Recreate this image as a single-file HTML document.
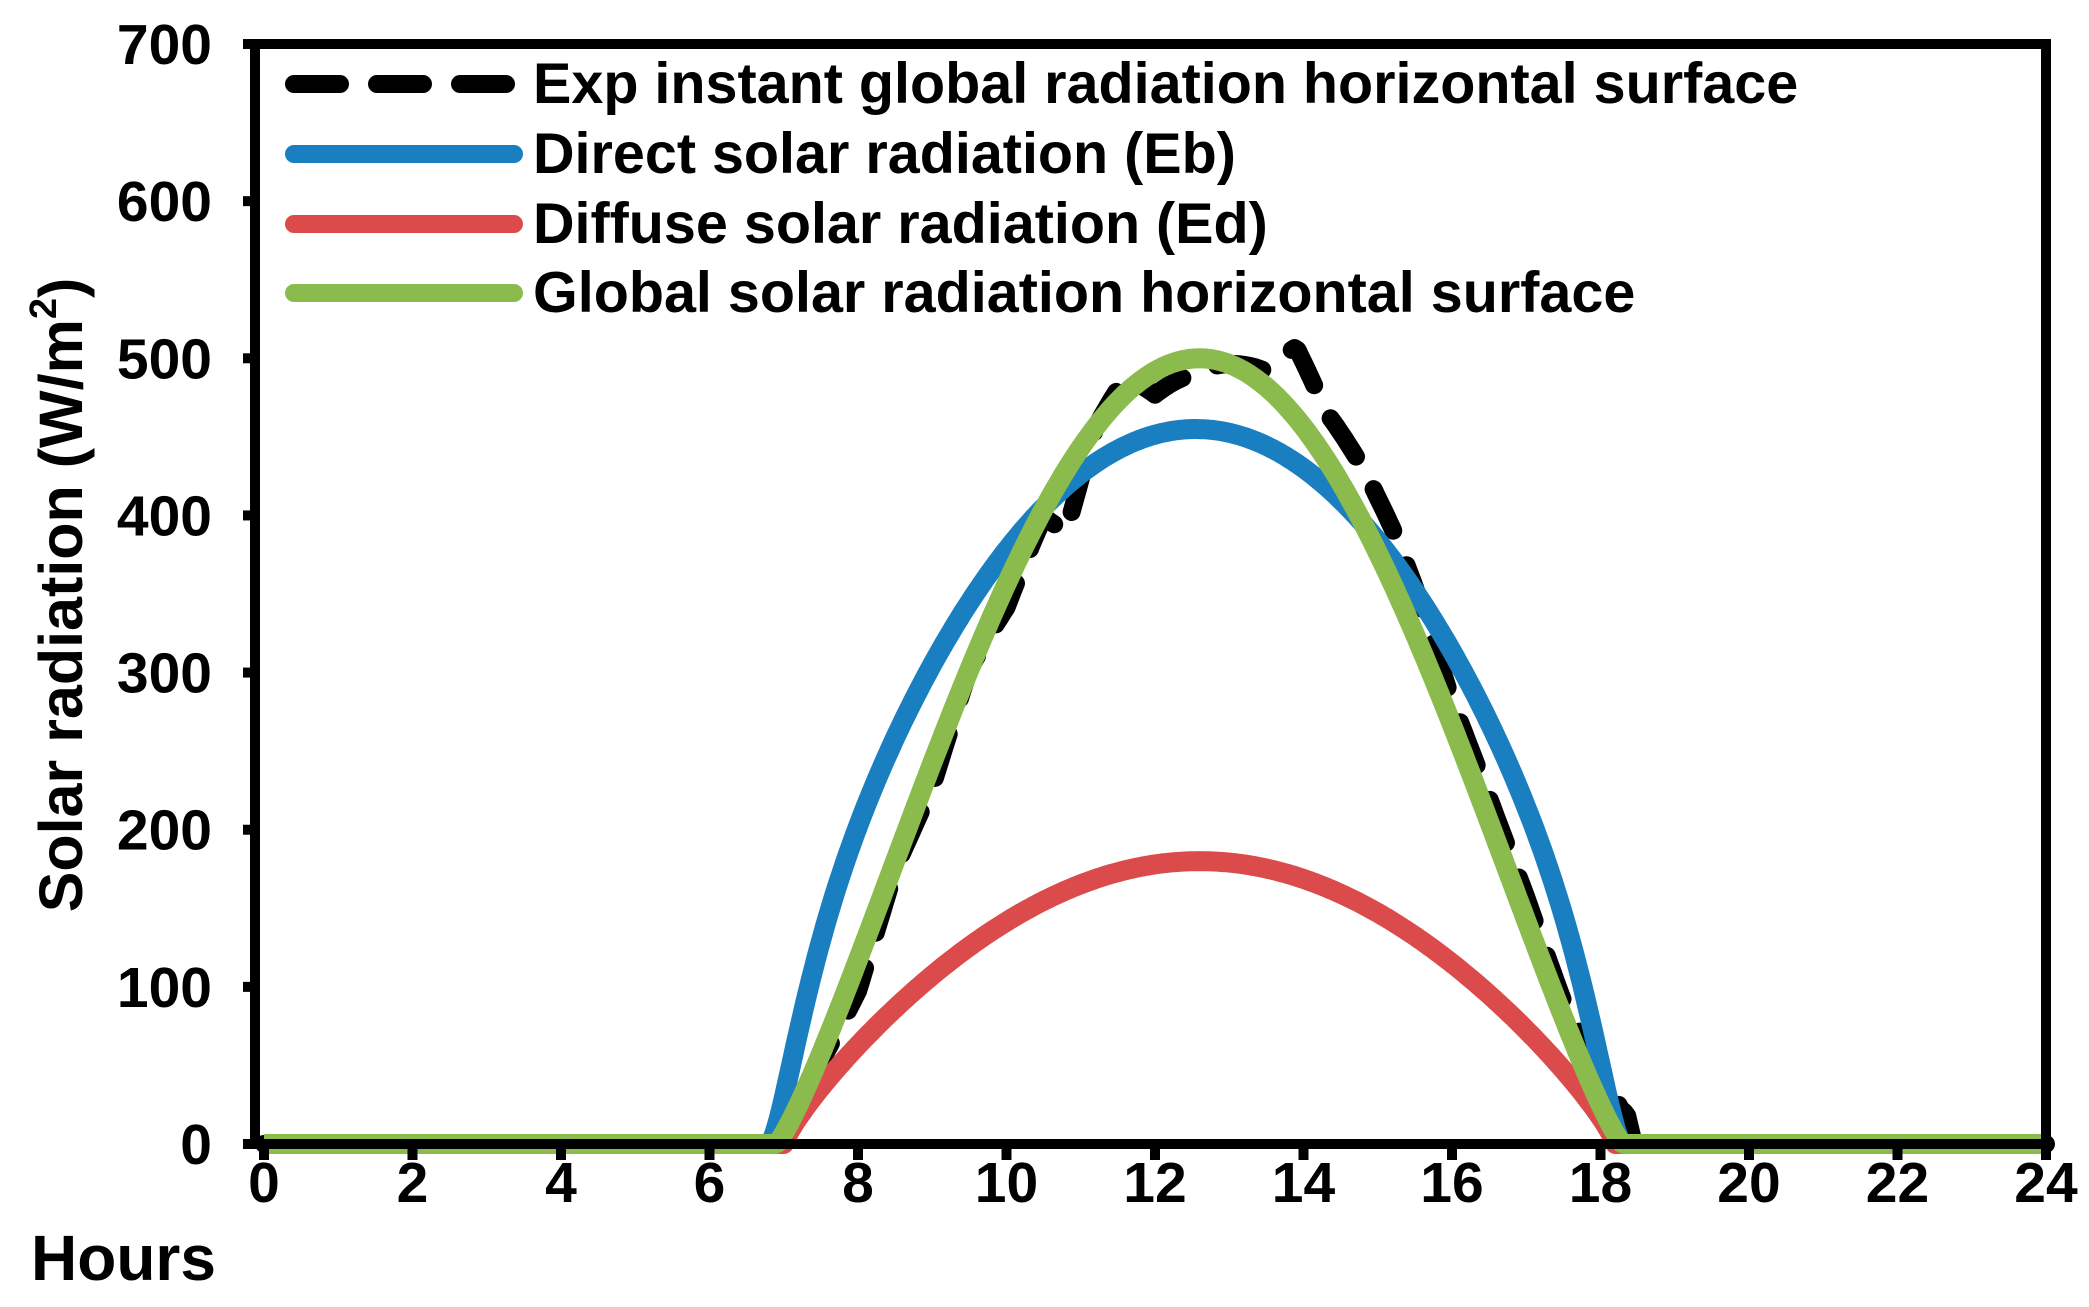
<!DOCTYPE html>
<html><head><meta charset="utf-8"><style>
html,body{margin:0;padding:0;background:#fff}
svg text{font-family:"Liberation Sans",Arial,sans-serif;font-weight:bold;fill:#000}
</style></head><body>
<svg id="s" width="2089" height="1302" viewBox="0 0 2089 1302" xmlns="http://www.w3.org/2000/svg">
<g id="plot"></g>
<rect x="255" y="44" width="1791" height="1100" fill="none" stroke="#000" stroke-width="10"/>
<g id="ticks" stroke="#000" stroke-width="10"></g>
<g font-size="57" text-anchor="end" id="yl"></g>
<g font-size="57" text-anchor="middle" id="xl"></g>
<text x="31" y="1280" font-size="64">Hours</text>
<text transform="translate(82,595) rotate(-90)" font-size="61" text-anchor="middle">Solar radiation (W/m<tspan font-size="38" dy="-26">2</tspan><tspan dy="26">)</tspan></text>
<g stroke-linecap="round" stroke-width="18">
<line x1="294" y1="84" x2="514" y2="84" stroke="#000" stroke-dasharray="46 37"/>
<line x1="294" y1="154" x2="514" y2="154" stroke="#1a7fc1"/>
<line x1="294" y1="224" x2="514" y2="224" stroke="#db4b4b"/>
<line x1="294" y1="293" x2="514" y2="293" stroke="#8bba4d"/>
</g>
<g font-size="57.5">
<text x="533" y="103">Exp instant global radiation horizontal surface</text>
<text x="533" y="173">Direct solar radiation (Eb)</text>
<text x="533" y="243">Diffuse solar radiation (Ed)</text>
<text x="533" y="312">Global solar radiation horizontal surface</text>
</g>
</svg>
<script>
var X=function(t){return 264+t*74.25},Y=function(v){return 1144-v*1.5714};
var NS="http://www.w3.org/2000/svg";
function el(p,n,a){var e=document.createElementNS(NS,n);for(var k in a)e.setAttribute(k,a[k]);p.appendChild(e);return e;}
function f(t,t0,t1,A,p){if(t<=t0||t>=t1)return 0;return A*Math.pow(Math.sin(Math.PI*(t-t0)/(t1-t0)),p);}
function path(fn,t0,t1){var d="";for(var t=t0;t<=t1+1e-9;t+=0.04){d+=(d?"L":"M")+X(t).toFixed(1)+","+Y(fn(t)).toFixed(1);}return d;}
var noise=[[6.5,0],[7,10],[8,-20],[8.5,-5],[9,-15],[9.5,0],[10,-15],[10.5,-5],[10.8,-40],[11.2,0],[11.6,10],[12,-15],[12.5,-10],[13,0],[13.5,10],[13.9,45],[14.3,30],[14.8,35],[15.2,35],[15.5,30],[16,15],[17,15],[17.5,10],[18,25],[18.35,20],[18.45,0]];
function nz(t){for(var i=0;i<noise.length-1;i++){if(t>=noise[i][0]&&t<=noise[i+1][0]){var a=noise[i],b=noise[i+1];return a[1]+(b[1]-a[1])*(t-a[0])/(b[0]-a[0]);}}return 0;}
var g=document.getElementById("plot");
var G=function(t){return f(t,6.9,18.3,500,1.2)};
el(g,"path",{d:path(function(t){var v=G(t);if(v<=0&&!(t>18&&t<18.45))return 0;return Math.max(0,v+nz(t));},0,24),fill:"none",stroke:"#000","stroke-width":18,"stroke-linecap":"round","stroke-linejoin":"round","stroke-dasharray":"46 37"});
el(g,"path",{d:path(function(t){if(t<=6.8||t>=18.3)return 0;var s=Math.sin(Math.PI*(t-6.8)/11.5);return 455*Math.pow(s,0.7)*(1-Math.exp(-s/0.08));},0,24),fill:"none",stroke:"#1a7fc1","stroke-width":20,"stroke-linejoin":"round"});
el(g,"path",{d:path(function(t){return f(t,7.0,18.2,180,0.82)},0,24),fill:"none",stroke:"#db4b4b","stroke-width":20,"stroke-linejoin":"round"});
el(g,"path",{d:path(G,0,24),fill:"none",stroke:"#8bba4d","stroke-width":20,"stroke-linejoin":"round"});
var tk=document.getElementById("ticks"),yl=document.getElementById("yl"),xl=document.getElementById("xl");
for(var v=0;v<=700;v+=100){var y=Y(v);el(tk,"line",{x1:243,y1:y,x2:255,y2:y});var t=el(yl,"text",{x:212,y:y+20});t.textContent=v;}
for(var h=0;h<=24;h+=2){var x=X(h);el(tk,"line",{x1:x,y1:1144,x2:x,y2:1160});var t2=el(xl,"text",{x:x,y:1202});t2.textContent=h;}
</script>
</body></html>
